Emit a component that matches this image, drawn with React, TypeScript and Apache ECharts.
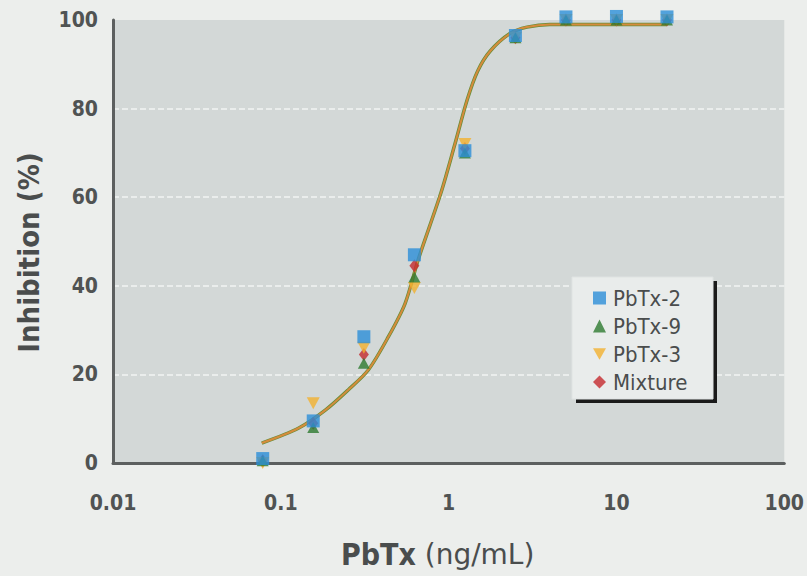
import React, { useEffect, useRef } from "react";
import * as echarts from "echarts";

const concentrations = [0.078, 0.156, 0.3125, 0.625, 1.25, 2.5, 5, 10, 20];
const pbtx2 = [1, 9.5, 28.5, 47, 70.5, 96.5, 100.7, 100.8, 100.7];
const pbtx9 = [0.5, 8, 22.5, 42, 70, 96, 100, 100, 100];
const pbtx3 = [0, 13.5, 26, 39.5, 72, 96, 100, 100, 100];
const mixture = [0.5, 9, 24.5, 44.5, 71, 96, 100, 100, 100];

const curveX = [0.077, 0.128, 0.185, 0.252, 0.332, 0.436, 0.55, 0.66, 0.9, 1.09, 1.29, 1.49, 1.77, 2.33, 2.93, 4, 20];
const curveY = [4.5, 7.9, 12, 16.5, 21, 28.4, 36, 46, 61, 72, 82, 88.5, 93, 97, 98.4, 99, 99];

const xTicks = [0.01, 0.1, 1, 10, 100];

const FONT = '"DejaVu Sans Condensed", "Liberation Sans", sans-serif';
const FONT_WIDE = '"DejaVu Sans", "Liberation Sans", sans-serif';
const DOWN_TRI = "path://M0,0L10,0L5,9Z";

const pair = (xs: number[], ys: number[]) => xs.map((x, i) => [x, ys[i]]);

export default function App() {
  const ref = useRef<HTMLDivElement>(null);
  useEffect(() => {
    if (!ref.current) return;
    const chart = echarts.init(ref.current, null, { renderer: "svg" });
    chart.setOption({
      animation: false,
      backgroundColor: "#eceeec",
      grid: {
        left: 113,
        right: 18,
        top: 20,
        bottom: 113,
        show: true,
        backgroundColor: "#d3d8d7",
        borderWidth: 0,
      },
      xAxis: {
        type: "log",
        logBase: 10,
        min: 0.01,
        max: 100,
        axisLine: { lineStyle: { color: "#5c5f5f", width: 3 } },
        axisTick: { show: false },
        minorTick: { show: false },
        splitLine: { show: false },
        axisLabel: {
          margin: 29,
          fontFamily: FONT,
          fontWeight: "bold",
          fontSize: 21,
          color: "#505353",
          formatter: (v: number) => {
            const t = xTicks.find((k) => Math.abs(Math.log10(k) - Math.log10(v)) < 1e-6);
            return t !== undefined ? String(t) : "";
          },
        },
        name: "{b|PbTx}{r| (ng/mL)}",
        nameLocation: "middle",
        nameGap: 76,
        nameTextStyle: {
          padding: [0, 22, 0, 0],
          rich: {
            b: { fontFamily: FONT, fontWeight: "bold", fontSize: 30, color: "#4a4d4d" },
            r: { fontFamily: FONT_WIDE, fontSize: 28, color: "#4a4d4d" },
          },
        },
      },
      yAxis: {
        type: "value",
        min: 0,
        max: 100,
        interval: 20,
        axisLine: { show: true, lineStyle: { color: "#5c5f5f", width: 3 } },
        axisTick: { show: false },
        splitLine: {
          show: true,
          showMaxLine: false,
          showMinLine: false,
          lineStyle: { color: "#f2f4f4", width: 1.5, type: [6, 3] },
        },
        axisLabel: {
          margin: 15,
          fontFamily: FONT,
          fontWeight: "bold",
          fontSize: 21,
          color: "#505353",
        },
        name: "Inhibition (%)",
        nameLocation: "middle",
        nameGap: 70,
        nameTextStyle: {
          fontFamily: FONT,
          fontWeight: "bold",
          fontSize: 29,
          color: "#4a4d4d",
          padding: [0, 22, 0, 0],
        },
      },
      legend: {
        orient: "vertical",
        left: 588,
        top: 282,
        itemGap: 6,
        itemWidth: 13,
        itemHeight: 13,
        data: ["PbTx-2", "PbTx-9", "PbTx-3", "Mixture"],
        textStyle: { fontFamily: FONT, fontSize: 22, color: "#4a4d4d", padding: [0, 0, 0, 2] },
      },
      graphic: [
        { type: "rect", shape: { x: 576, y: 281, width: 141, height: 122 }, style: { fill: "#1a1a1a" }, z: 1 },
        { type: "rect", shape: { x: 572, y: 277, width: 141, height: 122 }, style: { fill: "#e9eceb", stroke: "#dfe3e2", lineWidth: 1 }, z: 2 },
      ],
      series: [
        {
          type: "line",
          data: pair(curveX, curveY),
          smooth: 0.3,
          showSymbol: false,
          symbol: "none",
          lineStyle: { color: "#6a8d38", width: 3.5 },
          z: 2,
          silent: true,
        },
        {
          type: "line",
          data: pair(curveX, curveY),
          smooth: 0.3,
          showSymbol: false,
          symbol: "none",
          lineStyle: { color: "#d68b3c", width: 2 },
          z: 3,
          silent: true,
        },
        {
          name: "Mixture",
          type: "scatter",
          data: pair(concentrations, mixture),
          symbol: "diamond",
          symbolSize: [10, 13],
          itemStyle: { color: "#c42a2e" },
          clip: false,
          z: 4,
        },
        {
          name: "PbTx-3",
          type: "scatter",
          data: pair(concentrations, pbtx3),
          symbol: DOWN_TRI,
          symbolSize: [13, 12],
          itemStyle: { color: "#f2b230" },
          clip: false,
          z: 5,
        },
        {
          name: "PbTx-9",
          type: "scatter",
          data: pair(concentrations, pbtx9),
          symbol: "triangle",
          symbolSize: [12, 11],
          itemStyle: { color: "#2d7a30" },
          clip: false,
          z: 6,
        },
        {
          name: "PbTx-2",
          type: "scatter",
          data: pair(concentrations, pbtx2),
          symbol: "rect",
          symbolSize: 13,
          itemStyle: { color: "#2c8fd8" },
          clip: false,
          z: 7,
        },
      ],
    });
    return () => chart.dispose();
  }, []);
  return (
    <div
      ref={ref}
      style={{ position: "fixed", left: 0, top: 0, width: 807, height: 576 }}
    />
  );
}
